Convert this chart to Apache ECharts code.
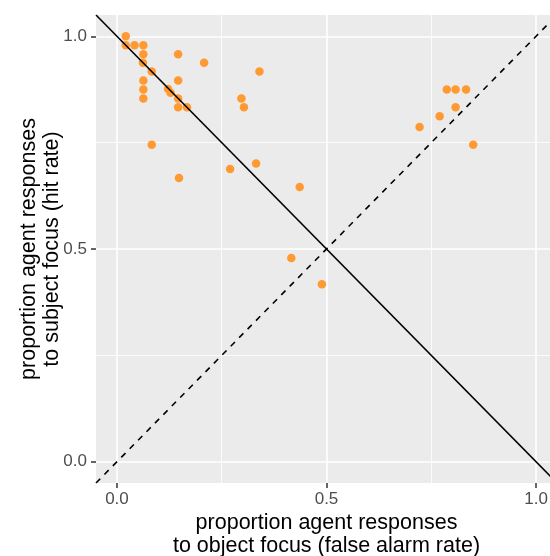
<!DOCTYPE html>
<html>
<head>
<meta charset="utf-8">
<script src="https://cdn.jsdelivr.net/npm/echarts@6/dist/echarts.min.js"></script>
<style>
html,body{margin:0;padding:0;background:#fff;}
#chart{width:550px;height:556px;}
</style>
</head>
<body>
<div id="chart"></div>
<script>
// false alarm rate (x) and hit rate (y) per participant
var falseAlarm = [0.021,0.021,0.042,0.063,0.063,0.062,0.083,0.146,0.208,0.340,0.063,0.146,0.063,0.122,0.128,0.063,0.146,0.146,0.167,0.297,0.303,0.083,0.148,0.270,0.332,0.436,0.416,0.489,0.787,0.808,0.833,0.808,0.770,0.722,0.850];
var hitRate    = [1.000,0.979,0.979,0.979,0.958,0.938,0.917,0.958,0.938,0.917,0.896,0.896,0.875,0.876,0.867,0.854,0.854,0.833,0.833,0.854,0.833,0.745,0.667,0.688,0.701,0.646,0.479,0.417,0.875,0.875,0.875,0.833,0.812,0.787,0.745];
// reference lines (endpoints at the panel limits)
var solidLineX = [-0.05, 1.05];
var solidLineY = [1.05, -0.05];
var dashLineX  = [-0.05, 1.05];
var dashLineY  = [-0.05, 1.05];
// axis ticks
var majorTicks = [0, 0.5, 1];
var minorTicks = [0.25, 0.75];
var tickLabels = ['0.0', '0.5', '1.0'];
var axisMin = -0.05, axisMax = 1.05;

var points = falseAlarm.map(function (x, i) { return [x, hitRate[i]]; });
var solidPts = solidLineX.map(function (x, i) { return [x, solidLineY[i]]; });
var dashPts = dashLineX.map(function (x, i) { return [x, dashLineY[i]]; });

function fmt(v) {
  var idx = majorTicks.indexOf(Math.round(v * 100) / 100);
  return idx >= 0 ? tickLabels[idx] : '';
}

var FONT = '"Liberation Sans", Arial, Helvetica, sans-serif';

var chart = echarts.init(document.getElementById('chart'), null, {renderer: 'canvas'});
chart.setOption({
  animation: false,
  backgroundColor: '#ffffff',
  grid: {
    left: 96, top: 15, width: 461, height: 468,
    containLabel: false, outerBoundsMode: 'none',
    show: true, backgroundColor: '#EBEBEB', borderWidth: 0
  },
  xAxis: [{
    type: 'value', min: axisMin, max: axisMax,
    position: 'bottom',
    name: 'proportion agent responses\nto object focus (false alarm rate)',
    nameLocation: 'middle', nameGap: 29, nameMoveOverlap: false,
    nameTextStyle: {fontFamily: FONT, fontSize: 21.5, color: '#000', lineHeight: 23},
    axisLine: {show: true, onZero: false, lineStyle: {color: 'rgba(0,0,0,0)', width: 0}},
    axisTick: {show: true, inside: false, length: 5, customValues: majorTicks, lineStyle: {color: '#333333', width: 1.5}},
    axisLabel: {customValues: majorTicks, formatter: fmt, margin: 8, fontFamily: FONT, fontSize: 17, color: '#4D4D4D'},
    splitLine: {show: true, lineStyle: {color: '#ffffff', width: 1.6}}
  }, {
    type: 'value', min: axisMin, max: axisMax,
    position: 'bottom',
    axisLine: {show: false, onZero: false},
    axisTick: {show: false, customValues: minorTicks},
    axisLabel: {show: false, customValues: minorTicks},
    splitLine: {show: true, lineStyle: {color: '#ffffff', width: 0.8}}
  }],
  yAxis: [{
    type: 'value', min: axisMin, max: axisMax,
    position: 'left',
    name: 'proportion agent responses\nto subject focus (hit rate)',
    nameLocation: 'middle', nameGap: 32, nameMoveOverlap: false,
    nameTextStyle: {fontFamily: FONT, fontSize: 21.5, color: '#000', lineHeight: 23},
    axisLine: {show: true, onZero: false, lineStyle: {color: 'rgba(0,0,0,0)', width: 0}},
    axisTick: {show: true, inside: false, length: 5, customValues: majorTicks, lineStyle: {color: '#333333', width: 1.5}},
    axisLabel: {customValues: majorTicks, formatter: fmt, margin: 9, fontFamily: FONT, fontSize: 17, color: '#4D4D4D'},
    splitLine: {show: true, lineStyle: {color: '#ffffff', width: 1.6}}
  }, {
    type: 'value', min: axisMin, max: axisMax,
    position: 'left',
    axisLine: {show: false, onZero: false},
    axisTick: {show: false, customValues: minorTicks},
    axisLabel: {show: false, customValues: minorTicks},
    splitLine: {show: true, lineStyle: {color: '#ffffff', width: 0.8}}
  }],
  series: [{
    type: 'scatter', xAxisIndex: 0, yAxisIndex: 0,
    data: points, symbolSize: 8.5,
    itemStyle: {color: '#FF9A33', opacity: 1},
    z: 2
  }, {
    type: 'line', xAxisIndex: 0, yAxisIndex: 0,
    data: solidPts, showSymbol: false, symbol: 'none', clip: true,
    lineStyle: {color: '#000000', width: 1.6, type: 'solid'},
    z: 5
  }, {
    type: 'line', xAxisIndex: 0, yAxisIndex: 0,
    data: dashPts, showSymbol: false, symbol: 'none', clip: true,
    lineStyle: {color: '#000000', width: 1.6, type: [6, 6]},
    z: 5
  }]
});
</script>
</body>
</html>
